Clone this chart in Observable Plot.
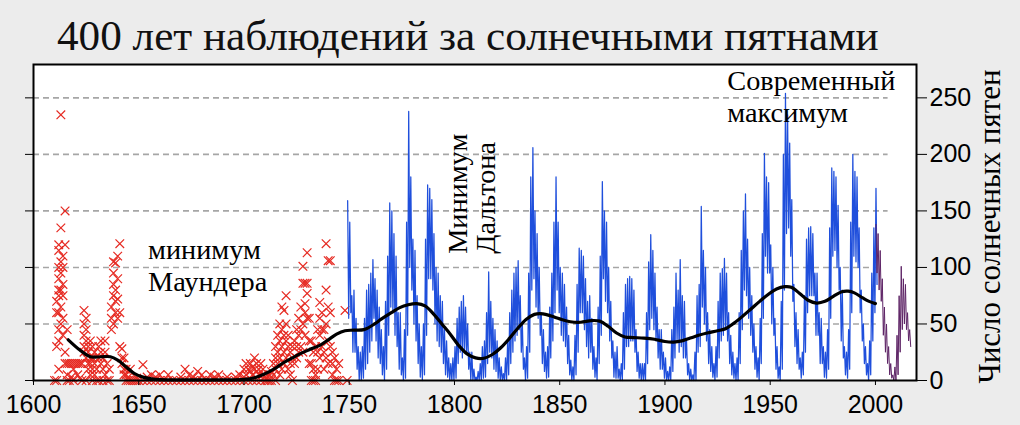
<!DOCTYPE html>
<html>
<head>
<meta charset="utf-8">
<script src="https://cdn.jsdelivr.net/npm/d3@7"></script>
<script src="https://cdn.jsdelivr.net/npm/@observablehq/plot@0.6"></script>
<style>
  html, body { margin: 0; padding: 0; background: #ececec; }
  #wrap { width: 1020px; height: 425px; overflow: hidden; }
  #title { height: 58px; line-height: 71px; padding-left: 57px; font-family: "Liberation Serif", "Times New Roman", serif; font-size: 43.2px; color: #111; white-space: nowrap; }
</style>
</head>
<body>
<div id="wrap">
  <div id="title">400 лет наблюдений за солнечными пятнами</div>
  <div id="chart"></div>
</div>
<script>
// ---- axis ticks ----
const xTicks = [1600, 1650, 1700, 1750, 1800, 1850, 1900, 1950, 2000];
const yTicks = [0, 50, 100, 150, 200, 250];
const gridValues = [50, 100, 150, 200, 250];

// ---- early telescopic observations (red crosses) ----
const redYears = [
  1610, 1611, 1611, 1611, 1611,
  1612, 1612, 1612, 1612, 1612, 1612, 1612, 1612, 1612, 1612,
  1613, 1613, 1613, 1613, 1613, 1613, 1613,
  1614, 1614, 1614, 1614, 1614, 1614,
  1615, 1615, 1615, 1615,
  1616, 1616, 1616, 1616, 1617, 1617, 1618, 1618, 1619, 1619, 1619, 1620, 1621, 1621, 1622, 1622, 1623, 1623,
  1624, 1624, 1624, 1624, 1624, 1625, 1625, 1625, 1625, 1625,
  1626, 1626, 1626, 1626, 1627, 1627, 1627, 1627, 1628, 1628, 1628, 1628,
  1629, 1629, 1629, 1630, 1630, 1631, 1631, 1631, 1632, 1632, 1632, 1633, 1633, 1633,
  1634, 1634, 1634, 1635, 1635, 1636, 1636,
  1637, 1637, 1637, 1638, 1638, 1638, 1638, 1638, 1639, 1639, 1639, 1639,
  1640, 1640, 1640, 1640, 1641, 1641, 1641, 1642, 1642, 1642, 1643, 1643, 1643, 1644, 1644, 1644,
  1645, 1645, 1646, 1646, 1647, 1648, 1649, 1649, 1650, 1652, 1652, 1654, 1654, 1656, 1656, 1658, 1658,
  1660, 1660, 1662, 1664, 1664, 1666, 1668, 1670, 1670, 1672, 1672, 1674, 1674, 1676, 1676, 1678, 1678,
  1680, 1680, 1682, 1684, 1684, 1686, 1686, 1688, 1688, 1690, 1692, 1692, 1694, 1696, 1696, 1698, 1698,
  1700, 1700, 1700, 1701, 1701, 1702, 1702, 1703, 1703, 1704, 1704, 1704, 1705, 1705, 1706, 1706, 1706,
  1707, 1707, 1708, 1708, 1709, 1709, 1710, 1710, 1711, 1711, 1712, 1712, 1713, 1713, 1714, 1714,
  1715, 1715, 1715, 1715, 1716, 1716, 1716, 1717, 1717, 1717, 1717, 1718, 1718, 1718, 1718,
  1719, 1719, 1719, 1719, 1720, 1720, 1720, 1720, 1721, 1721, 1721, 1722, 1722, 1722, 1723, 1723, 1723,
  1724, 1724, 1725, 1725, 1725, 1726, 1726, 1726, 1727, 1727, 1727,
  1728, 1728, 1728, 1728, 1729, 1729, 1729, 1729, 1730, 1730, 1730, 1730,
  1731, 1731, 1731, 1732, 1732, 1732, 1733, 1733, 1733, 1734, 1734, 1734, 1735, 1735, 1735,
  1736, 1736, 1736, 1736, 1737, 1737, 1737, 1738, 1738, 1738, 1739, 1739, 1739, 1739,
  1740, 1740, 1740, 1740, 1741, 1741, 1741, 1742, 1742, 1742, 1743, 1743, 1744, 1744, 1745, 1745, 1748, 1749
];
const redValues = [
  0, 0, 30, 60, 70,
  10, 35, 45, 60, 75, 80, 90, 100, 115, 120,
  235, 50, 65, 80, 95, 105, 135,
  100, 85, 75, 55, 40, 110,
  150, 120, 25, 15,
  15, 0, 5, 45, 15, 0, 15, 3, 15, 0, 10, 15, 15, 5, 15, 2, 15, 0,
  25, 40, 50, 62, 30, 20, 35, 45, 55, 0,
  15, 25, 30, 10, 20, 35, 5, 15, 10, 20, 30, 0,
  15, 25, 5, 10, 0, 20, 30, 0, 15, 35, 25, 10, 0, 20,
  35, 25, 5, 15, 0, 10, 0,
  55, 65, 45, 75, 85, 95, 105, 50, 104, 80, 70, 60,
  90, 72, 55, 110, 121, 60, 30, 28, 20, 15, 20, 10, 5, 5, 0, 10,
  0, 3, 0, 10, 0, 0, 0, 2, 0, 14, 0, 0, 3, 0, 5, 3, 0,
  0, 5, 0, 5, 0, 0, 0, 0, 3, 10, 0, 5, 0, 0, 3, 8, 0,
  5, 0, 0, 5, 0, 0, 3, 5, 0, 0, 3, 0, 0, 0, 3, 5, 0,
  10, 0, 3, 5, 15, 10, 0, 15, 8, 12, 5, 0, 20, 10, 8, 15, 0,
  10, 5, 15, 0, 5, 10, 3, 0, 0, 2, 5, 0, 0, 8, 5, 15,
  20, 30, 10, 0, 25, 40, 15, 35, 50, 20, 5, 65, 45, 30, 10,
  62, 40, 25, 15, 75, 50, 35, 20, 40, 30, 10, 25, 15, 5, 20, 30, 0,
  35, 15, 45, 30, 20, 55, 40, 25, 65, 45, 30,
  101, 86, 50, 25, 86, 68, 60, 40, 113, 86, 77, 55,
  55, 35, 15, 35, 15, 0, 25, 10, 0, 30, 5, 0, 45, 25, 10,
  69, 55, 40, 20, 60, 45, 30, 45, 25, 10, 121, 80, 50, 20,
  106, 65, 35, 15, 106, 60, 30, 25, 15, 5, 20, 0, 10, 0, 15, 0, 62, 0
];

// ---- monthly record 1749-2000 (blue), per year: highest and lowest month ----
const blueStart = 1749;
const blueHigh = [
  159, 140, 75, 80, 55, 30, 25, 30, 55, 80, 85,
  95, 107, 90, 80, 65, 45, 30, 70, 110, 157,
  150, 130, 110, 60, 60, 20, 45, 140, 238, 180,
  125, 115, 75, 50, 30, 50, 125, 173, 170, 160,
  130, 100, 95, 75, 70, 45, 35, 20, 15, 20,
  30, 55, 65, 70, 75, 65, 50, 25, 25, 10,
  3, 8, 15, 30, 35, 60, 96, 70, 55, 45,
  35, 20, 12, 6, 20, 35, 60, 80, 95, 100,
  106, 75, 50, 20, 30, 95, 180, 206, 150, 130,
  100, 60, 45, 25, 30, 65, 95, 140, 180, 140,
  100, 95, 85, 65, 40, 18, 12, 40, 85, 117,
  115, 110, 90, 70, 75, 55, 30, 20, 65, 110,
  176, 150, 140, 100, 70, 35, 25, 30, 10, 15,
  60, 85, 90, 92, 90, 80, 45, 25, 15, 15,
  15, 60, 105, 129, 115, 95, 65, 45, 45, 25,
  20, 8, 12, 45, 65, 95, 80, 107, 75, 70,
  35, 15, 10, 5, 25, 75, 85, 154, 115, 100,
  60, 45, 30, 15, 30, 70, 95, 99, 108, 95,
  60, 40, 25, 15, 20, 60, 115, 150, 165, 125,
  100, 75, 50, 30, 20, 55, 130, 201, 180, 175,
  120, 100, 55, 30, 12, 70, 200, 254, 235, 210,
  160, 85, 60, 45, 20, 25, 75, 125, 135, 136,
  130, 95, 95, 60, 55, 30, 25, 45, 135, 188,
  185, 180, 155, 100, 80, 30, 25, 45, 140, 200,
  185, 180, 135, 80, 50, 30, 15, 35, 95, 135,
  170
];
const blueLow = [
  55, 60, 25, 25, 10, 0, 0, 2, 10, 15, 25,
  35, 55, 35, 20, 15, 5, 0, 10, 40, 65,
  60, 40, 30, 10, 5, 0, 2, 40, 100, 80,
  50, 35, 15, 3, 0, 5, 40, 90, 90, 80,
  50, 35, 30, 25, 15, 5, 3, 0, 0, 0,
  2, 15, 25, 20, 25, 25, 10, 0, 0, 0,
  0, 0, 0, 2, 3, 15, 25, 20, 10, 8,
  2, 0, 0, 0, 0, 5, 15, 25, 35, 40,
  45, 25, 10, 0, 2, 25, 80, 90, 65, 55,
  40, 15, 8, 2, 3, 20, 35, 60, 80, 60,
  40, 35, 30, 15, 5, 0, 0, 5, 25, 60,
  60, 45, 30, 20, 25, 10, 3, 0, 15, 40,
  90, 70, 60, 35, 20, 3, 2, 2, 0, 0,
  10, 30, 30, 35, 35, 25, 8, 2, 0, 0,
  0, 15, 45, 55, 45, 35, 20, 10, 10, 2,
  0, 0, 0, 8, 20, 35, 25, 30, 20, 20,
  5, 0, 0, 0, 0, 25, 30, 65, 50, 35,
  15, 8, 3, 0, 3, 20, 35, 40, 45, 35,
  15, 5, 2, 0, 0, 15, 45, 80, 75, 55,
  40, 25, 10, 3, 0, 15, 55, 110, 95, 95,
  50, 40, 10, 2, 0, 10, 80, 130, 135, 110,
  70, 30, 15, 10, 2, 5, 25, 60, 75, 75,
  75, 40, 40, 15, 15, 3, 2, 10, 55, 110,
  115, 100, 80, 35, 20, 5, 2, 10, 60, 110,
  105, 100, 60, 35, 15, 5, 0, 5, 35, 60,
  85
];

// ---- recent record (purple), per year: highest and lowest month ----
const purpleStart = 2000;
const purpleHigh = [138, 130, 115, 90, 65, 50, 30, 15, 5, 12, 40, 75, 101, 90, 85, 60, 45];
const purpleLow  = [95, 80, 70, 40, 25, 15, 5, 2, 0, 0, 5, 25, 45, 50, 45, 35, 30];

// ---- smoothed trend (black) ----
const trendYears = [1616.5, 1622, 1627, 1632, 1636.5, 1640, 1644, 1648, 1652, 1656, 1660, 1670, 1680, 1690, 1700, 1705, 1710, 1715, 1719, 1723, 1727, 1732, 1736, 1740, 1744, 1748, 1752, 1757, 1762, 1765, 1770, 1774, 1778, 1782, 1786, 1790, 1794, 1798, 1802, 1806, 1810, 1814, 1818, 1822, 1826, 1830, 1834, 1838, 1842, 1846, 1850, 1855, 1860, 1865, 1869, 1873, 1877, 1881, 1885, 1890, 1895, 1900, 1904, 1908, 1912, 1916, 1920, 1925, 1929, 1933, 1937, 1941, 1945, 1949, 1953, 1957, 1960, 1964, 1968, 1972, 1976, 1980, 1984, 1987, 1990, 1994, 1997, 2000];
const trendValues = [36, 27, 21, 21, 21, 18, 12, 6, 3, 1.5, 0.8, 0.5, 0.5, 0.5, 1, 2.5, 6, 11, 16, 20, 24, 28, 31, 36, 41, 44, 44.5, 45, 50, 54, 60, 64.5, 67, 68, 66, 59, 50, 41, 31, 23.5, 20, 19.7, 23, 29, 37, 46, 54, 58.5, 59, 57, 54.5, 52, 51.5, 53, 52.5, 48, 42, 38.5, 38, 37.5, 36.5, 34.5, 34, 35, 37.5, 40, 42, 44, 46, 51, 57, 63.5, 70, 76, 81, 83, 82.5, 77, 71, 68.5, 70, 74.5, 78.5, 79, 77.5, 73, 70, 68];

// ---- annotations ----
const noteTexts = ["минимум\nМаундера", "Современный\nмаксимум", "Минимум\nДальтона"];
const noteYears = [1654.4, 1929.6, 1819.3];
const noteValues = [79.4, 228.6, 112];
const noteRotate = [0, 0, -90];
const yLabel = "Число солнечных пятен";

// ---- tables built from the arrays ----
const red = redYears.map((x, i) => ({x, y: redValues[i]}));
const blue = blueHigh.flatMap((h, i) => [
  {x: blueStart + i + 0.25, y: h},
  {x: blueStart + i + 0.75, y: blueLow[i]}
]);
const purple = purpleHigh.flatMap((h, i) => [
  {x: purpleStart + i + 0.25, y: h},
  {x: purpleStart + i + 0.75, y: purpleLow[i]}
]);
const trend = trendYears.map((x, i) => ({x, y: trendValues[i]}));
const notes = noteTexts.map((t, i) => ({t, x: noteYears[i], y: noteValues[i], r: noteRotate[i]}));

const serif = "'Liberation Serif', 'Times New Roman', serif";

const chart = Plot.plot({
  width: 1020,
  height: 367,
  marginTop: 6,
  marginBottom: 45,
  marginLeft: 33,
  marginRight: 104,
  style: {fontFamily: "'Liberation Sans', Arial, sans-serif", background: "transparent", color: "black", overflow: "visible"},
  x: {domain: [1600, 2019.5]},
  y: {domain: [0, 279.5]},
  marks: [
    Plot.frame({fill: "white", stroke: "none"}),
    Plot.ruleY(gridValues, {x1: 1600, x2: 2006, stroke: "#a6a6a6", strokeWidth: 1.6, strokeDasharray: "6,4"}),
    Plot.rect([purpleStart], {x1: d => d + 0.4, x2: d => d + 17.6, y1: 0, y2: 138, fill: "white"}),
    Plot.dot(red, {x: "x", y: "y", symbol: "times", r: 4, stroke: "#e62a22", strokeWidth: 1.2}),
    Plot.line(blue, {x: "x", y: "y", stroke: "#1f4fdc", strokeWidth: 1.25}),
    Plot.line(purple, {x: "x", y: "y", stroke: "#5e2466", strokeWidth: 1}),
    Plot.line(trend, {x: "x", y: "y", stroke: "black", strokeWidth: 3.2, curve: "catmull-rom"}),
    Plot.text(notes.filter(d => d.r === 0), {x: "x", y: "y", text: "t", textAnchor: "start", lineAnchor: "bottom", lineHeight: 1.13, fontSize: 28.3, fontFamily: serif, fill: "black"}),
    Plot.text(notes.filter(d => d.r !== 0), {x: "x", y: "y", text: "t", rotate: -90, textAnchor: "start", lineAnchor: "bottom", lineHeight: 1.0, fontSize: 28.3, fontFamily: serif, fill: "black"}),
    Plot.axisX({ticks: xTicks, tickFormat: d => String(d), tickSize: 5, tickPadding: 10, fontSize: 25, label: null}),
    Plot.axisY({anchor: "right", ticks: yTicks, tickSize: 10, tickPadding: 3, fontSize: 25, label: null}),
    Plot.axisY({anchor: "left", ticks: yTicks, tickSize: 8, tickFormat: () => "", label: null}),
    Plot.text([yLabel], {frameAnchor: "bottom-right", rotate: -90, textAnchor: "start", dx: 83, dy: 3, fontSize: 31, fontFamily: serif, fill: "black"}),
    Plot.frame({stroke: "black", strokeWidth: 2})
  ]
});
document.getElementById("chart").appendChild(chart);
</script>
</body>
</html>
